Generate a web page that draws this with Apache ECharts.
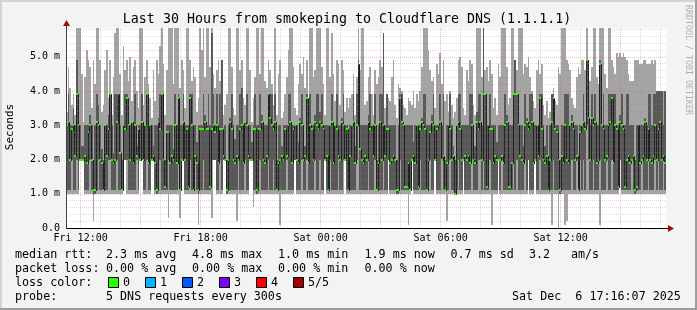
<!DOCTYPE html>
<html>
<head>
<meta charset="utf-8">
<script src="https://cdn.jsdelivr.net/npm/echarts@6.0.0/dist/echarts.min.js"></script>
<style>
html,body{margin:0;padding:0;background:#f3f3f3;}
#chart{width:697px;height:310px;}
</style>
</head>
<body>
<div id="chart"></div>
<script>
// ---------- data: RTT of the 5 sorted pings per 300 s round, in tenths of a millisecond ----------
const minRtt = [
10,10,10,10,10,10,10,10,20,20, 20,10,10,10,10,10,2,10,10,10, 10,10,10,10,10,10,10,10,10,10,
10,10,10,10,20,20,10,10,10,10, 10,10,10,10,20,20,10,10,10,10, 10,20,20,10,10,10,10,10,10,10,
10,3,10,10,10,10,10,10,3,20, 20,10,10,10,10,10,10,10,10,1, 10,10,10,10,10,10,10,3,20,20,
10,10,10,10,20,20,10,10,10,10, 10,10,2,10,10,10,10,10,10,10, 20,20,6,10,10,10,10,10,10,10,
10,10,10,10,10,10,10,10,1,10, 10,10,10,10,10,10,10,20,10,10, 10,10,10,10,10,10,10,10,10,10,
10,10,10,10,10,20,10,10,10,10, 10,10,10,10,10,10,10,20,10,10, 10,10,10,10,10,10,10,10,10,10,
10,10,10,10,10,10,10,10,10,10, 10,10,10,20,10,10,10,10,10,10, 10,10,10,10,10,1,10,20,10,10,
10,10,10,10,10,10,10,10,10,10, 10,20,10,10,10,10,10,10,2,10, 10,10,10,10,10,10,10,10,20,10,
10,10,10,10,10,10,10,10,10,10, 10,10,10,10,10,1,10,10,10,20, 10,10,10,10,10,10,10,10,10,10,
10,10,10,10,10,10,10,20,10,10, 10,20,10,10,10,10,10,10,10,10, 10,1,10,10,10,0,10,10,10,1,
2,10,10,10,10,10,10,10,10,10, 10,10,10,10,10,10,10,10,10,10, 1,10,10,10,10,10,10,10,10,10,
10,10,20,10,10,10,10,10,10,10, 10,10,10,10,10,10,10,10,10,10, 10,10,10,10,10,10,10,10,10,10];
const loRtt = [
11,11,11,20,11,11,20,11,20,20, 20,11,11,11,20,11,10,10,11,20, 11,11,11,11,11,20,20,11,11,11,
20,11,11,11,20,20,20,11,11,11, 11,11,20,11,20,20,11,11,20,11, 11,20,20,11,10,11,20,11,11,11,
11,20,11,11,11,11,11,20,11,20, 20,11,11,11,20,11,11,20,11,10, 11,11,20,11,11,11,11,20,20,20,
11,11,20,11,20,20,10,11,11,11, 11,11,11,20,11,11,11,20,11,11, 20,20,11,11,10,11,20,11,11,11,
11,20,11,11,20,11,11,11,11,11, 11,11,20,11,11,11,11,20,11,11, 11,20,11,11,20,11,11,11,11,20,
11,11,20,11,11,20,11,11,20,11, 11,11,11,20,11,11,20,20,11,11, 11,11,11,11,20,30,11,11,11,11,
11,20,11,11,11,20,11,11,11,11, 20,11,11,20,11,11,11,11,10,10, 20,11,11,11,11,11,11,20,11,11,
11,11,20,11,11,11,11,11,20,11, 11,20,11,11,11,20,11,11,11,11, 20,11,11,10,11,20,11,11,20,11,
11,11,11,20,11,11,11,20,20,11, 20,11,11,11,20,11,11,11,11,20, 11,20,11,11,11,11,11,11,20,11,
20,11,11,11,11,20,11,20,11,11, 11,20,11,11,20,11,11,11,11,11, 11,11,20,11,11,11,10,11,11,11,
11,11,11,20,11,11,20,11,20,11, 20,11,30,20,11,11,20,11,11,11, 20,11,11,11,20,11,11,20,11,11,
11,11,20,11,11,11,11,11,11,20, 11,10,11,11,11,20,11,11,11,20, 11,11,11,20,11,20,11,11,20,11];
const medianRtt = [
30,31,20,29,30,21,39,30,20,20, 20,21,19,28,30,20,11,11,31,30, 20,19,11,30,21,29,39,20,19,20,
31,39,22,11,30,29,38,30,20,31, 19,30,21,29,20,31,20,30,39,19, 30,20,21,19,11,31,29,39,20,12,
28,28,19,21,20,30,19,38,11,20, 31,20,29,12,38,30,11,21,19,11, 29,29,29,31,29,29,12,29,30,28,
30,19,29,29,21,20,11,20,31,29, 20,19,21,20,29,30,19,31,30,21, 20,20,29,29,11,29,29,31,20,19,
21,39,32,30,29,31,11,19,20,21, 20,29,21,30,31,19,29,30,20,19, 31,30,20,21,38,19,30,29,20,31,
30,29,31,30,29,20,21,11,30,31, 19,30,29,21,20,31,30,20,29,11, 21,30,31,19,30,48,23,20,19,21,
20,31,29,30,21,30,11,19,31,20, 30,21,29,29,19,20,21,20,11,11, 38,31,30,12,12,19,11,20,21,19,
30,12,29,31,30,29,11,20,28,31, 30,20,29,30,31,20,21,11,19,30, 29,20,21,10,30,31,29,20,20,21,
20,21,19,30,20,19,31,29,31,20, 39,39,12,30,29,29,19,21,20,20, 20,21,19,30,31,12,12,19,39,39,
39,30,21,20,19,30,31,29,30,31, 19,20,30,21,38,29,20,19,21,11, 20,31,38,29,28,20,11,21,19,30,
20,19,30,31,29,20,21,11,28,30, 31,29,49,32,20,32,30,31,19,20, 48,30,29,20,21,30,31,38,19,30,
29,12,31,30,29,12,20,21,19,20, 21,11,12,30,19,20,21,31,20,29, 20,19,21,30,20,29,31,20,21,19];
const hiRtt = [
30,39,30,30,35,30,49,39,30,24, 24,30,30,30,33,30,20,30,39,36, 30,23,20,30,30,33,39,30,22,39,
39,39,30,20,30,39,39,30,30,31, 30,39,24,30,30,39,30,30,39,30, 30,30,24,30,30,32,39,39,30,20,
30,30,30,30,23,39,30,39,30,30, 39,30,30,30,39,39,20,30,25,30, 30,30,39,33,30,39,30,57,39,30,
39,30,39,49,24,30,20,30,32,39, 30,26,30,30,39,41,30,31,39,30, 30,25,30,39,30,30,39,33,30,30,
30,39,39,39,30,39,20,30,30,24, 30,30,30,39,39,30,30,30,30,25, 32,39,30,24,39,30,39,30,30,33,
39,39,34,39,30,30,30,30,30,39, 30,30,39,30,30,32,39,30,30,20, 30,30,39,24,39,49,30,30,30,30,
30,33,39,30,30,39,20,30,39,39, 57,30,39,30,30,30,30,30,20,30, 39,39,30,30,30,30,30,30,25,30,
30,30,30,32,39,39,30,30,30,33, 39,30,30,30,39,30,39,20,30,30, 39,30,24,20,30,39,39,30,30,30,
30,30,39,39,30,24,34,39,39,30, 59,39,30,30,39,30,30,30,25,30, 30,30,30,39,33,30,30,30,39,49,
39,39,30,30,24,39,32,30,39,39, 30,30,30,30,39,39,30,24,30,20, 30,39,39,30,30,30,20,30,30,39,
39,39,30,33,30,30,30,20,30,30, 39,30,49,39,30,39,30,39,30,30, 49,30,39,30,30,39,39,39,39,39,
30,30,33,39,30,30,39,39,30,30, 30,20,30,30,30,30,30,32,30,39, 39,30,39,39,40,40,40,40,30,40];
const maxRtt = [
34,47,41,36,39,33,59,59,59,45, 31,44,52,49,47,35,49,42,59,59, 49,34,36,46,52,38,49,33,44,57,
59,59,45,33,53,46,49,43,50,37, 47,49,40,35,59,59,36,44,49,42, 38,32,46,37,49,45,53,59,48,33,
46,59,59,59,42,59,59,59,41,49, 46,35,59,59,49,43,47,44,34,38, 59,52,59,44,59,59,47,59,45,41,
46,49,43,49,33,36,39,59,59,47, 35,33,59,59,46,49,38,36,59,59, 46,31,38,44,59,59,45,59,59,43,
41,49,46,42,36,59,33,45,49,32, 34,39,44,52,59,59,47,35,33,42, 48,45,50,41,49,35,59,59,44,46,
59,59,59,47,42,33,59,59,44,57, 45,37,49,48,36,49,46,34,38,35, 38,39,45,33,44,59,46,59,59,36,
37,44,47,39,33,46,42,44,49,47, 57,35,39,38,37,44,49,36,32,42, 41,40,36,35,33,38,37,36,40,35,
39,37,40,47,59,59,59,52,46,43, 44,35,48,45,51,42,49,37,39,34, 40,36,32,34,38,49,50,47,35,33,
46,43,49,48,36,33,59,59,59,44, 59,46,47,43,49,45,35,38,33,48, 44,59,59,59,47,36,38,59,59,49,
46,59,59,59,45,48,47,50,44,40, 37,35,46,49,45,48,36,33,37,32, 34,39,41,37,36,47,45,59,59,59,
49,48,46,38,36,35,44,47,45,49, 49,46,59,49,43,47,59,59,44,42, 59,59,59,45,41,59,59,49,47,45,
51,50,51,50,51,50,49,45,43,43, 43,49,49,49,48,48,49,49,48,48, 48,49,48,49,40,40,40,40,40,40];

// ---------- time axis / labels ----------
const startHour = 11 + 16 / 60 + 7 / 3600;   // Fri 11:16:07 (hours after Fri 00:00)
const spanHours = 30;
const stepHours = 5 / 60;                     // 300 s
const xGridHours = [12,13,14,15,16,17,18,19,20,21,22,23,24,25,26,27,28,29,30,31,32,33,34,35,36,37,38,39,40,41];
const xLabelHours = [12, 18, 24, 30, 36];
const yMax = 5.84;

const title = 'Last 30 Hours from smokeping to Cloudflare DNS (1.1.1.1)';
const legendLines = [
  [['median rtt:', 15], ['2.3 ms avg', 106], ['4.8 ms max', 192], ['1.0 ms min', 278], ['1.9 ms now', 364.5], ['0.7 ms sd', 450.5], ['3.2', 529], ['am/s', 571]],
  [['packet loss:', 15], ['0.00 % avg', 106], ['0.00 % max', 192], ['0.00 % min', 278], ['0.00 % now', 364.5]],
  [['loss color:', 15]],
  [['probe:', 15], ['5 DNS requests every 300s', 106], ['Sat Dec  6 17:16:07 2025', 512]]
];
const lossColors = [['0', '#26ff00'], ['1', '#00b8ff'], ['2', '#0059ff'], ['3', '#7e00ff'], ['4', '#ff0000'], ['5/5', '#a10000']];
const lossBoxX = [108, 145, 182, 219, 256, 293];

// ---------- build ----------
const rows = medianRtt.map((m, i) => [
  startHour + i * stepHours,
  minRtt[i] / 10, loRtt[i] / 10, m / 10, hiRtt[i] / 10, maxRtt[i] / 10,
  (i > 0 ? medianRtt[i - 1] : m) / 10
]);

const MONO = '"DejaVu Sans Mono", monospace';
const MAJ = 'rgba(215,90,90,0.38)';
const MIN = 'rgba(140,140,140,0.3)';

function renderItem(params, api) {
  const t = api.value(0);
  const xa = Math.round(api.coord([t, 0])[0]);
  const xb = Math.round(api.coord([t + stepHours, 0])[0]);
  const w = Math.max(1, xb - xa);
  const Y = v => Math.round(api.coord([t, v])[1]);
  const y1 = Y(api.value(1)), y2 = Y(api.value(2)), y3 = Y(api.value(3)),
        y4 = Y(api.value(4)), y5 = Y(api.value(5)), yp = Y(api.value(6));
  const children = [
    { type: 'rect', shape: { x: xa, y: y5, width: w, height: y1 - y5 }, style: { fill: '#a4a4a4' } },
    { type: 'rect', shape: { x: xa, y: y4, width: w, height: y2 - y4 }, style: { fill: '#585858' } }
  ];
  if (yp !== y3) {
    children.push({ type: 'rect', shape: { x: xa, y: Math.min(yp, y3), width: 1, height: Math.abs(yp - y3) + 1 }, style: { fill: '#202020' } });
  }
  children.push({ type: 'rect', shape: { x: xa, y: y3 - 1, width: w, height: 2 }, style: { fill: '#26ff00' } });
  return { type: 'group', children };
}

function fmtX(v) {
  const day = v < 24 ? 'Fri' : 'Sat';
  const h = Math.round(v) % 24;
  return day + ' ' + (h < 10 ? '0' : '') + h + ':00';
}
function fmtY(v) {
  if (Math.abs(v - Math.round(v)) > 1e-6) return '';
  const r = Math.round(v);
  return r === 0 ? '0.0' : r.toFixed(1) + ' m';
}

const chart = echarts.init(document.getElementById('chart'), null, { renderer: 'canvas', width: 697, height: 310 });

chart.setOption({
  backgroundColor: '#f3f3f3',
  animation: false,
  grid: { left: 66, top: 28, width: 600, height: 200, show: true, backgroundColor: '#ffffff', borderWidth: 0 },
  xAxis: {
    type: 'value', min: startHour, max: startHour + spanHours, z: 3,
    axisLine: { show: false },
    axisTick: { show: false, customValues: xGridHours },
    splitLine: { show: true, lineStyle: { color: [MAJ, MIN, MIN], type: 'dotted', width: 1 } },
    axisLabel: { customValues: xLabelHours, formatter: fmtX, fontFamily: MONO, fontSize: 10, color: '#000', margin: 5 }
  },
  yAxis: {
    type: 'value', min: 0, max: yMax, interval: 0.2, z: 3,
    axisLine: { show: false }, axisTick: { show: false },
    splitLine: { show: true, showMaxLine: false, lineStyle: { color: [MAJ, MIN, MIN, MIN, MIN], type: 'dotted', width: 1 } },
    axisLabel: { formatter: fmtY, fontFamily: MONO, fontSize: 10, color: '#000', margin: 6, showMaxLabel: false }
  },
  series: [{
    type: 'custom', renderItem, data: rows, clip: true, silent: true, z: 2,
    encode: { x: 0, y: [1, 2, 3, 4, 5] }
  }]
});

// decorations: frame, axes with arrows, texts
const p0 = chart.convertToPixel({ gridIndex: 0 }, [startHour, 0]);
const p1 = chart.convertToPixel({ gridIndex: 0 }, [startHour + spanHours, yMax]);
const ax = Math.round(p0[0]) + 0.5, ay = Math.round(p0[1]) + 0.5;
const axEnd = Math.round(p1[0]), ayEnd = Math.round(p1[1]);

const g = [];
g.push({ type: 'rect', shape: { x: 0, y: 0, width: 697, height: 2 }, style: { fill: '#d4d4d4' }, z: 100 });
g.push({ type: 'rect', shape: { x: 0, y: 0, width: 2, height: 310 }, style: { fill: '#d4d4d4' }, z: 100 });
g.push({ type: 'rect', shape: { x: 0, y: 308, width: 697, height: 2 }, style: { fill: '#9c9c9c' }, z: 100 });
g.push({ type: 'rect', shape: { x: 695, y: 0, width: 2, height: 310 }, style: { fill: '#9c9c9c' }, z: 100 });
g.push({ type: 'line', shape: { x1: ax - 0.5, y1: ay, x2: axEnd + 4, y2: ay }, style: { stroke: '#000', lineWidth: 1 }, z: 50 });
g.push({ type: 'line', shape: { x1: ax, y1: ay + 0.5, x2: ax, y2: ayEnd - 4 }, style: { stroke: '#404040', lineWidth: 1 }, z: 50 });
g.push({ type: 'polygon', shape: { points: [[axEnd + 2, ay - 3.5], [axEnd + 8, ay], [axEnd + 2, ay + 3.5]] }, style: { fill: '#a01010' }, z: 51 });
g.push({ type: 'polygon', shape: { points: [[ax - 3.5, ayEnd - 2], [ax, ayEnd - 8], [ax + 3.5, ayEnd - 2]] }, style: { fill: '#a01010' }, z: 51 });
g.push({ type: 'text', x: 347, y: 19.5, z: 60, style: { text: title, font: '13.3px ' + MONO, fill: '#000', align: 'center', verticalAlign: 'middle', textAlign: 'center', textVerticalAlign: 'middle' } });
g.push({ type: 'text', x: 10.5, y: 127, rotation: Math.PI / 2, z: 60, style: { text: 'Seconds', font: '11px ' + MONO, fill: '#000', align: 'center', verticalAlign: 'middle', textAlign: 'center', textVerticalAlign: 'middle' } });
g.push({ type: 'text', x: 688, y: 60, rotation: -Math.PI / 2, z: 60, style: { text: 'RRDTOOL / TOBI OETIKER', font: '8.3px ' + MONO, fill: '#b0b0b0', align: 'center', verticalAlign: 'middle', textAlign: 'center', textVerticalAlign: 'middle' } });
const legendY = [254.5, 268.5, 282.5, 296.5];
legendLines.forEach((line, li) => {
  line.forEach(([txt, x]) => {
    g.push({ type: 'text', x: x, y: legendY[li], z: 60, style: { text: txt, font: '11.7px ' + MONO, fill: '#000', align: 'left', verticalAlign: 'middle', textAlign: 'left', textVerticalAlign: 'middle' } });
  });
});
lossColors.forEach(([lab, col], i) => {
  const bx = lossBoxX[i];
  g.push({ type: 'rect', shape: { x: bx + 0.5, y: 277.5, width: 10, height: 10 }, style: { fill: col, stroke: '#000', lineWidth: 1 }, z: 60 });
  g.push({ type: 'text', x: bx + 15, y: legendY[2], z: 60, style: { text: lab, font: '11.7px ' + MONO, fill: '#000', align: 'left', verticalAlign: 'middle', textAlign: 'left', textVerticalAlign: 'middle' } });
});
chart.setOption({ graphic: { elements: g } });
</script>
</body>
</html>
